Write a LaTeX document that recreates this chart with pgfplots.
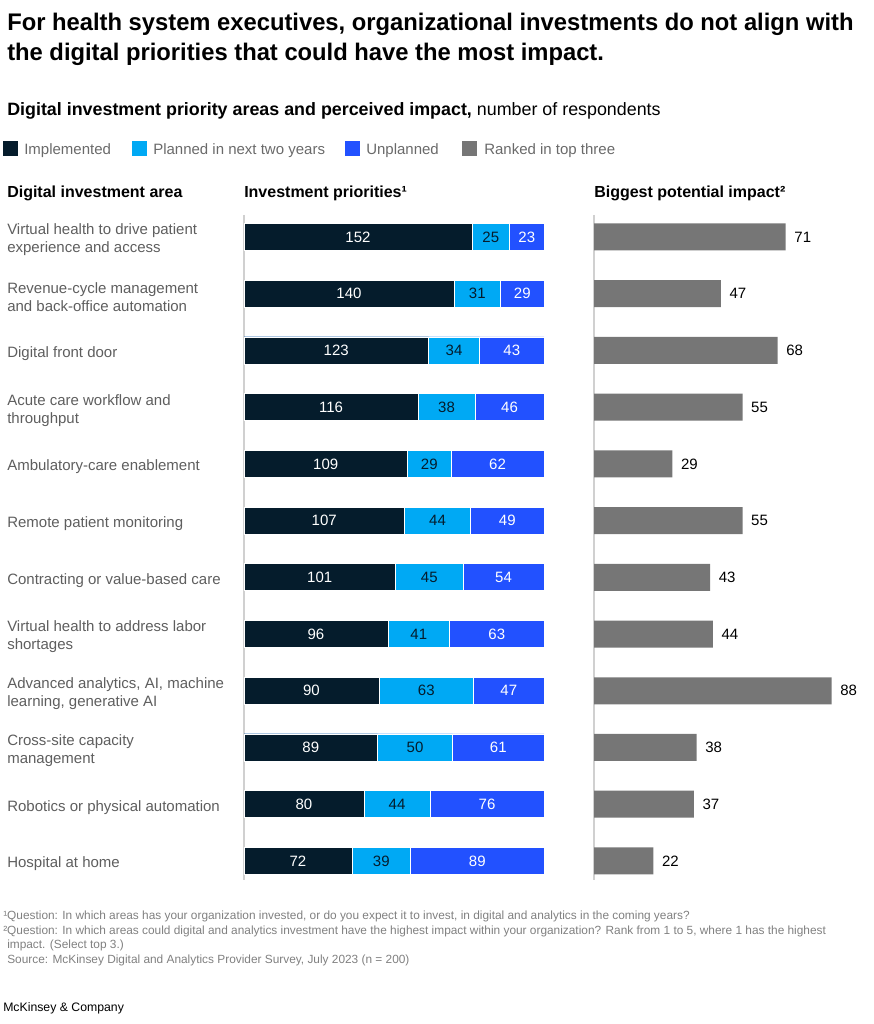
\documentclass[border=0pt]{standalone}
\usepackage{fontspec}
\setmainfont{Liberation Sans}
\newfontfamily\condfont[FakeStretch=0.99]{Liberation Sans}
\usepackage{pgfplots}
\usepackage{pgfplotstable}
\pgfplotsset{compat=1.18}
\definecolor{impl}{HTML}{051C2C}
\definecolor{plan}{HTML}{00A9F4}
\definecolor{unpl}{HTML}{2251FF}
\definecolor{topg}{HTML}{767676}
\definecolor{catg}{HTML}{5E5E5E}
\definecolor{axg}{HTML}{D0D0D0}
\definecolor{fng}{HTML}{808080}
\definecolor{legg}{HTML}{6A6A6A}

\pgfplotstableread{
idx i p u top
0 152 25 23 71
1 140 31 29 47
2 123 34 43 68
3 116 38 46 55
4 109 29 62 29
5 107 44 49 55
6 101 45 54 43
7 96 41 63 44
8 90 63 47 88
9 89 50 61 38
10 80 44 76 37
11 72 39 89 22
}\datatable

\newcommand{\bodyfont}{\fontsize{11.25pt}{13.5pt}\selectfont}

\begin{document}
\begin{tikzpicture}
\path[use as bounding box] (0,0) rectangle (655.5pt,-768pt);

\begin{scope}[x=0.75pt,y=-0.75pt]
% title
\node[anchor=base west,inner sep=0pt] at (7,31) {\condfont\bfseries\fontsize{18pt}{22.5pt}\selectfont For health system executives, organizational investments do not align with};
\node[anchor=base west,inner sep=0pt] at (7,61) {\condfont\bfseries\fontsize{18pt}{22.5pt}\selectfont the digital priorities that could have the most impact.};
% subtitle
\node[anchor=base west,inner sep=0pt] at (7,115) {\fontsize{13.4pt}{15pt}\selectfont\textbf{Digital investment priority areas and perceived impact,} number of respondents};
% legend
\fill[impl] (3,141) rectangle (18,156);
\node[anchor=base west,inner sep=0pt,text=legg] at (24,154) {\bodyfont Implemented};
\fill[plan] (132,141) rectangle (147,156);
\node[anchor=base west,inner sep=0pt,text=legg] at (153,154) {\bodyfont Planned in next two years};
\fill[unpl] (345,141) rectangle (360,156);
\node[anchor=base west,inner sep=0pt,text=legg] at (366,154) {\bodyfont Unplanned};
\fill[topg] (462,141) rectangle (477,156);
\node[anchor=base west,inner sep=0pt,text=legg] at (484,154) {\bodyfont Ranked in top three};
% column headers
\node[anchor=base west,inner sep=0pt] at (7,197) {\bfseries\fontsize{12pt}{14pt}\selectfont Digital investment area};
\node[anchor=base west,inner sep=0pt] at (244,197) {\bfseries\fontsize{12pt}{14pt}\selectfont Investment priorities¹};
\node[anchor=base west,inner sep=0pt] at (594,197) {\bfseries\fontsize{12pt}{14pt}\selectfont Biggest potential impact²};
% footnotes
\begin{scope}[every node/.style={anchor=base west,inner sep=0pt,text=fng,font=\fontsize{8.9pt}{10pt}\selectfont}]
\node at (3,919) {¹Question: In which areas has your organization invested, or do you expect it to invest, in digital and analytics in the coming years?};
\node at (3,934) {²Question: In which areas could digital and analytics investment have the highest impact within your organization? Rank from 1 to 5, where 1 has the highest};
\node at (7,948) {impact. (Select top 3.)};
\node at (7,963) {Source: McKinsey Digital and Analytics Provider Survey, July 2023 (n = 200)};
\end{scope}
\node[anchor=base west,inner sep=0pt] at (3,1011) {\fontsize{9.2pt}{11pt}\selectfont McKinsey \& Company};
\end{scope}

% left panel
\begin{axis}[
  at={(183pt,-156.45pt)}, anchor=north west,
  scale only axis, width=225pt, height=510.5pt,
  xmin=0, xmax=200, ymin=-0.5, ymax=11.5, y dir=reverse,
  axis line style={draw=none}, tick style={draw=none},
  xtick=\empty, ytick={0,...,11},
  yticklabels={{Virtual health to drive patient\\experience and access},
    {Revenue-cycle management\\and back-office automation},
    {Digital front door},
    {Acute care workflow and\\throughput},
    {Ambulatory-care enablement},
    {Remote patient monitoring},
    {Contracting or value-based care},
    {Virtual health to address labor\\shortages},
    {Advanced analytics, AI, machine\\learning, generative AI},
    {Cross-site capacity\\management},
    {Robotics or physical automation},
    {Hospital at home}},
  yticklabel style={anchor=west, xshift=-177.75pt, yshift=-2.25pt, inner sep=0pt, align=left, font=\bodyfont, text=catg},
  clip=false,
  bar width=20.25pt,
]
\draw[axg, line width=0.8pt] (axis cs:0,-0.39) -- (axis cs:0,11.33);
\addplot[xbar, bar shift=0pt, fill=unpl, draw=white, line width=0.6pt] table[x expr=\thisrow{i}+\thisrow{p}+\thisrow{u}, y=idx] \datatable;
\addplot[xbar, bar shift=0pt, fill=plan, draw=white, line width=0.6pt] table[x expr=\thisrow{i}+\thisrow{p}, y=idx] \datatable;
\addplot[xbar, bar shift=0pt, fill=impl, draw=white, line width=0.6pt] table[x=i, y=idx] \datatable;
\addplot[draw=none, mark=none, nodes near coords, point meta=explicit symbolic, nodes near coords align=center,
  every node near coord/.append style={font=\bodyfont, text=white, anchor=center}] table[x expr=\thisrow{i}/2, y=idx, meta=i] \datatable;
\addplot[draw=none, mark=none, nodes near coords, point meta=explicit symbolic, nodes near coords align=center,
  every node near coord/.append style={font=\bodyfont, text=impl, anchor=center}] table[x expr=\thisrow{i}+\thisrow{p}/2, y=idx, meta=p] \datatable;
\addplot[draw=none, mark=none, nodes near coords, point meta=explicit symbolic, nodes near coords align=center,
  every node near coord/.append style={font=\bodyfont, text=white, anchor=center}] table[x expr=\thisrow{i}+\thisrow{p}+\thisrow{u}/2, y=idx, meta=u] \datatable;
\end{axis}

% right panel
\begin{axis}[
  at={(445.5pt,-156.45pt)}, anchor=north west,
  scale only axis, width=202.5pt, height=510.5pt,
  xmin=0, xmax=100, ymin=-0.5, ymax=11.5, y dir=reverse,
  axis line style={draw=none}, tick style={draw=none},
  xtick=\empty, ytick=\empty,
  clip=false,
  bar width=20.25pt,
]
\draw[axg, line width=0.8pt] (axis cs:0,-0.39) -- (axis cs:0,11.33);
\addplot[xbar, bar shift=0pt, fill=topg, draw=none, nodes near coords, point meta=explicit symbolic,
  nodes near coords align=horizontal,
  every node near coord/.append style={font=\bodyfont, text=black, anchor=west, xshift=3pt}] table[x=top, y=idx, meta=top] \datatable;
\end{axis}
\end{tikzpicture}
\end{document}
